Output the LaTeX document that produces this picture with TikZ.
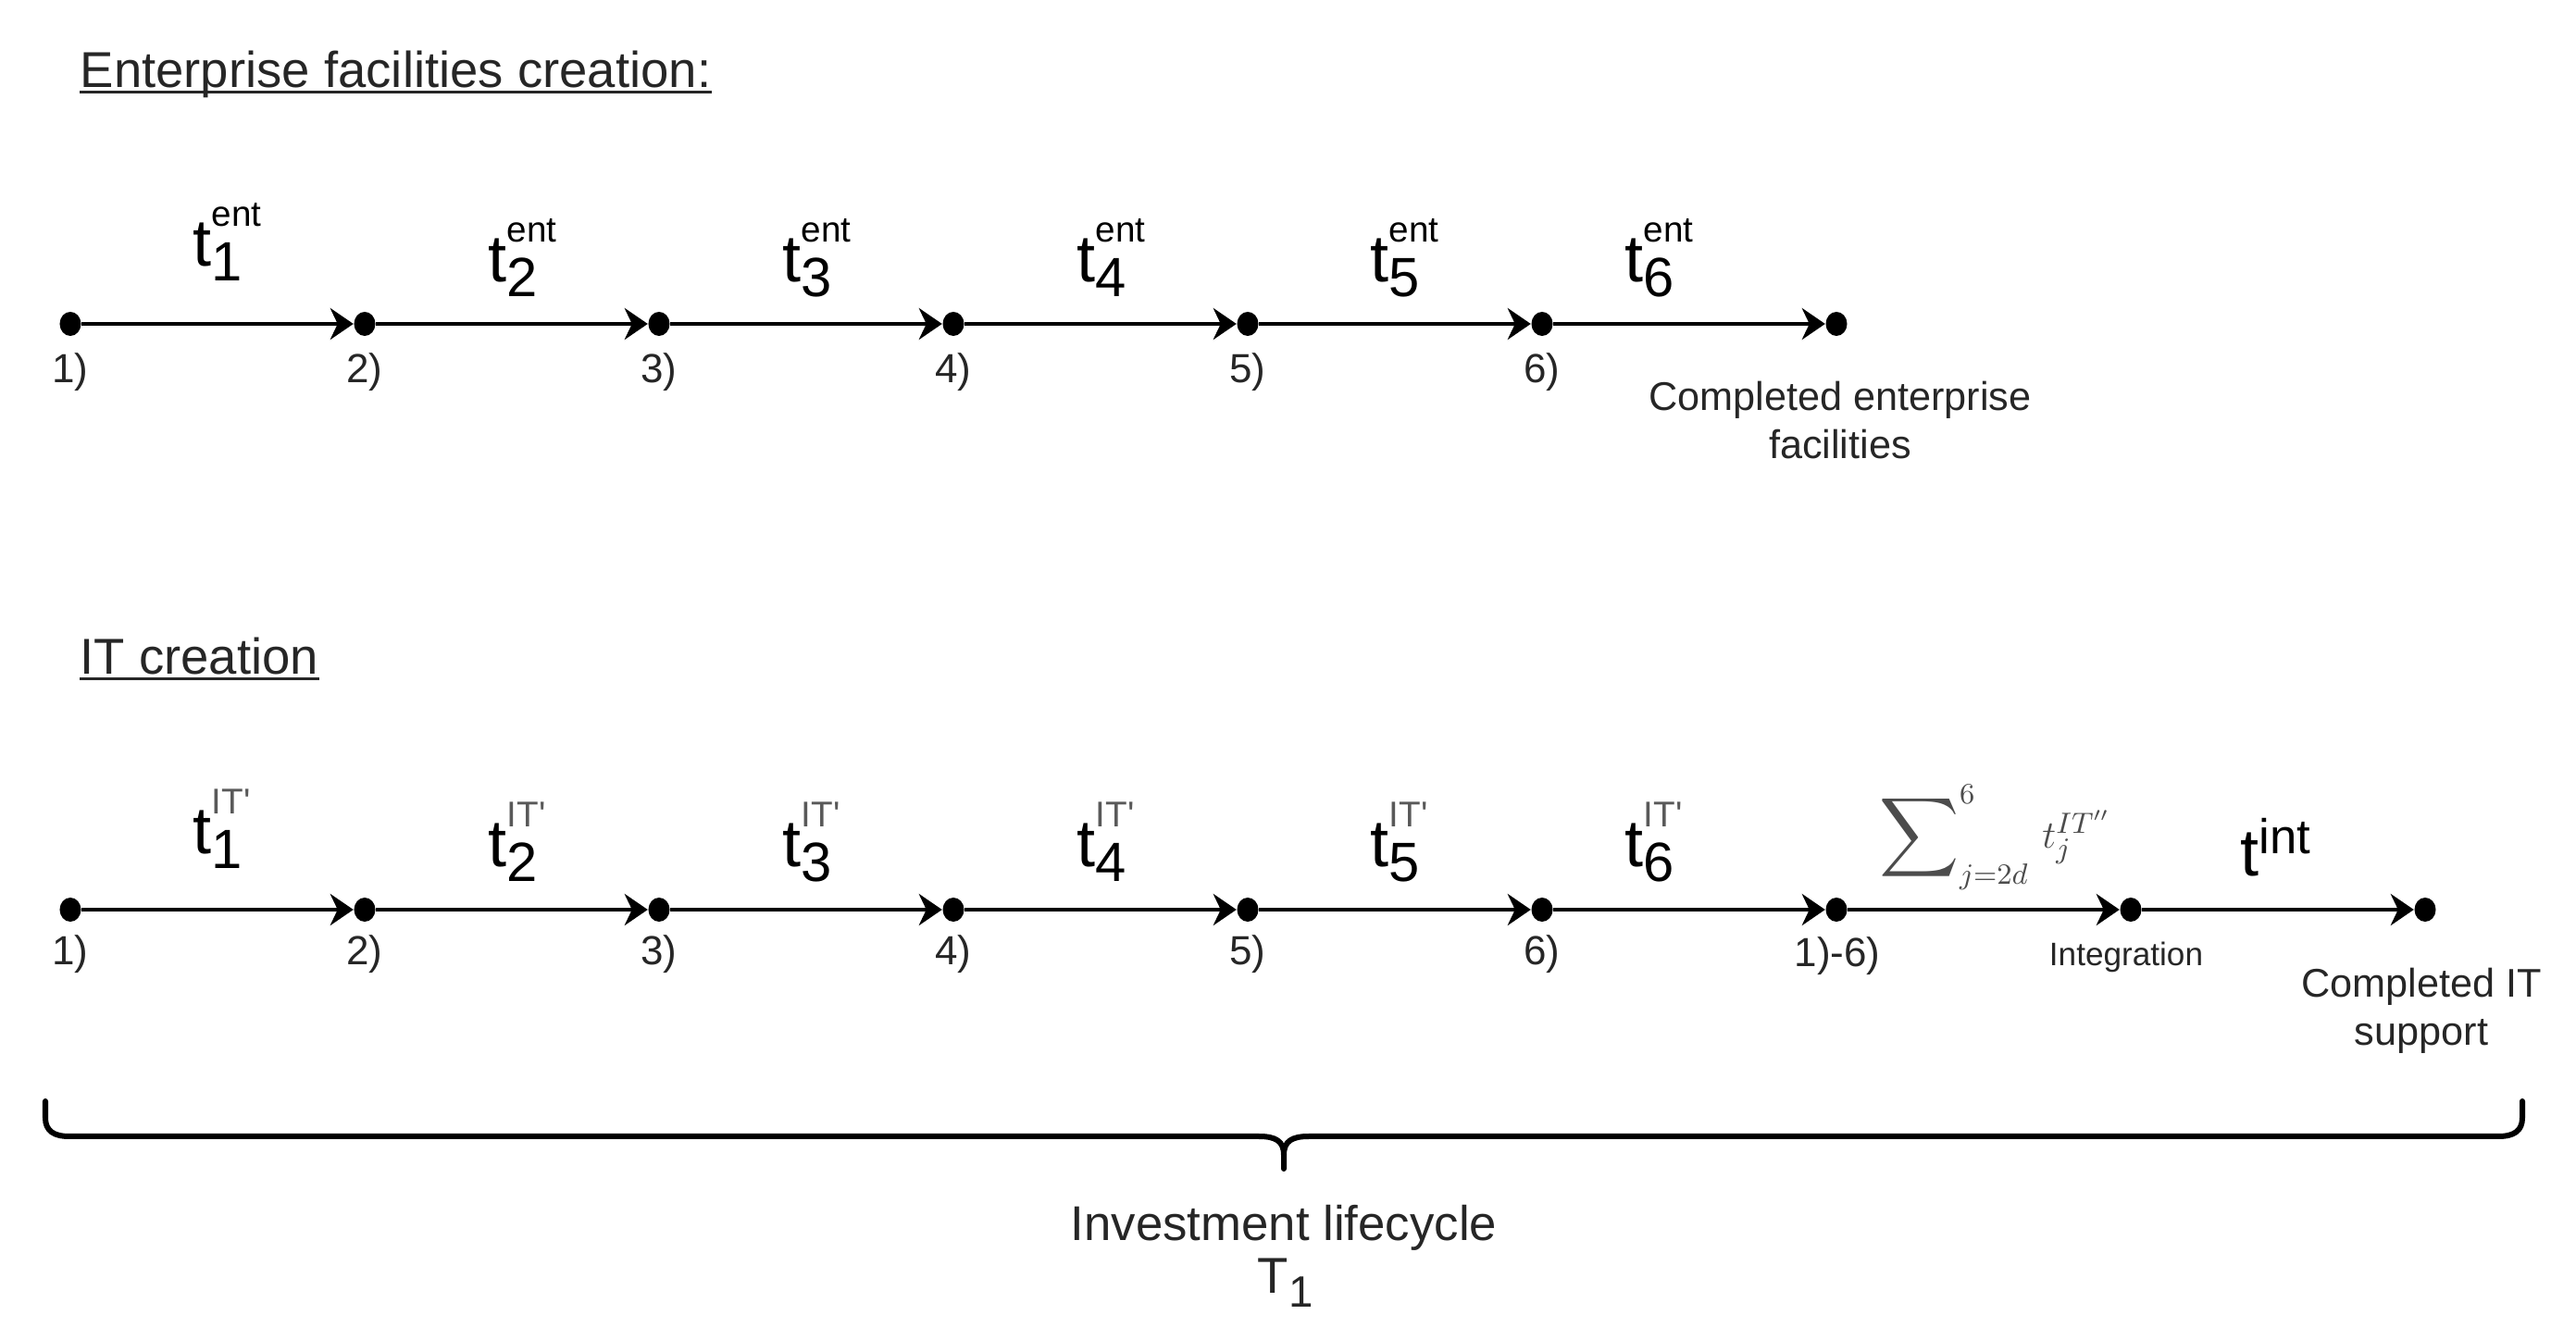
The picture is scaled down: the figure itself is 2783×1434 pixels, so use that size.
\documentclass[tikz,border=0pt]{standalone}
\usepackage{graphicx}
\usepackage{fontspec}
\setmainfont{Liberation Sans}
\usetikzlibrary{arrows.meta,shapes.geometric}
\newcommand\mytl[2]{{\fontsize{20.5}{24}\selectfont t}\rlap{\raisebox{0.43cm}{\fontsize{11}{13}\selectfont #2}}\raisebox{-0.15cm}{\fontsize{17}{20}\selectfont #1}}
\newcommand\itsup{\color{black!65}IT\textquotesingle}
\begin{document}
\begin{tikzpicture}[x=0.01cm,y=-0.01cm,
  dot/.style={ellipse,fill=black,inner sep=0pt,minimum width=0.23cm,minimum height=0.26cm},
  conn/.style={line width=0.04cm,-{Stealth[length=0.25cm,width=0.34cm,inset=0.08cm]}},
  numlab/.style={font=\fontsize{12.5}{15}\selectfont,text=black!85,inner sep=0pt},
  note/.style={font=\fontsize{12.3}{14.8}\selectfont,text=black!85,align=center,inner sep=0pt},
  heading/.style={font=\fontsize{15.5}{18}\selectfont,text=black!85,inner sep=0pt,anchor=base west},
  tlab/.style={inner sep=0pt,anchor=base west},
  brace/.style={line width=0.06cm,line cap=round,black}
]
\useasboundingbox (0,0) rectangle (2783,1434);

% headings
\node[heading] (h1) at (86,95) {Enterprise facilities creation:};
\draw[line width=0.03cm,black!85] ([yshift=-0.05cm]h1.base west) -- ([yshift=-0.05cm]h1.base east);
\node[heading] (h2) at (86,729) {IT creation};
\draw[line width=0.03cm,black!85] ([yshift=-0.05cm]h2.base west) -- ([yshift=-0.05cm]h2.base east);

% top timeline
\foreach \i/\x in {1/76,2/394,3/712,4/1030,5/1348,6/1666,7/1984}
  \node[dot] (a\i) at (\x,350) {};
\foreach \i/\j in {1/2,2/3,3/4,4/5,5/6,6/7}
  \draw[conn] (a\i) -- (a\j);
\foreach \i/\x in {1/76,2/394,3/712,4/1030,5/1348,6/1666}
  \node[numlab] (la\i) at (\x,402) {\i)};
\node[note] (cef) at (1988,454) {Completed enterprise\\facilities};

\node[tlab] (te1) at (208,288) {\mytl{1}{ent}};
\node[tlab] (te2) at (527,305) {\mytl{2}{ent}};
\node[tlab] (te3) at (845,305) {\mytl{3}{ent}};
\node[tlab] (te4) at (1163,305) {\mytl{4}{ent}};
\node[tlab] (te5) at (1480,305) {\mytl{5}{ent}};
\node[tlab] (te6) at (1755,305) {\mytl{6}{ent}};

% bottom timeline
\foreach \i/\x in {1/76,2/394,3/712,4/1030,5/1348,6/1666,7/1984,8/2302,9/2620}
  \node[dot] (b\i) at (\x,983) {};
\foreach \i/\j in {1/2,2/3,3/4,4/5,5/6,6/7,7/8,8/9}
  \draw[conn] (b\i) -- (b\j);
\foreach \i/\x in {1/76,2/394,3/712,4/1030,5/1348,6/1666}
  \node[numlab] (lb\i) at (\x,1031) {\i)};
\node[numlab] (lb7) at (1985,1033) {1)-6)};
\node[numlab,font=\fontsize{10}{12}\selectfont] (lb8) at (2297,1034) {Integration};
\node[note] (cit) at (2616,1092) {Completed IT\\support};

\node[tlab] (ti1) at (208,923) {\mytl{1}{\itsup}};
\node[tlab] (ti2) at (527,937) {\mytl{2}{\itsup}};
\node[tlab] (ti3) at (845,937) {\mytl{3}{\itsup}};
\node[tlab] (ti4) at (1163,937) {\mytl{4}{\itsup}};
\node[tlab] (ti5) at (1480,937) {\mytl{5}{\itsup}};
\node[tlab] (ti6) at (1755,937) {\mytl{6}{\itsup}};
\node[inner sep=0pt,anchor=west,text=black!70] (sum) at (2030,905)
  {\fontsize{13}{15}\selectfont$\mathop{\vcenter{\hbox{\scalebox{1.7}{$\displaystyle\sum$}}}}\nolimits_{j=2d}^{6}\, t_j^{IT''}$};
\node[tlab] (tint) at (2420,947) {{\fontsize{20.5}{24}\selectfont t}\raisebox{0.24cm}{\fontsize{15}{18}\selectfont int}};

% brace
\draw[brace] (49,1190) -- (49,1208) .. controls (49,1222) and (58,1228) .. (75,1228) -- (1360,1228) .. controls (1378,1228) and (1387,1233) .. (1387,1248) -- (1387,1263);
\draw[brace] (2725,1190) -- (2725,1208) .. controls (2725,1222) and (2716,1228) .. (2699,1228) -- (1414,1228) .. controls (1396,1228) and (1387,1233) .. (1387,1248);

\node[inner sep=0pt,anchor=base,font=\fontsize{15}{18}\selectfont,text=black!85] (inv) at (1387,1341) {Investment lifecycle};
\node[inner sep=0pt,anchor=base west,font=\fontsize{15.5}{18}\selectfont,text=black!85] (T1) at (1358,1398) {T\raisebox{-0.14cm}{\fontsize{13.5}{16}\selectfont 1}};
\end{tikzpicture}
\end{document}
